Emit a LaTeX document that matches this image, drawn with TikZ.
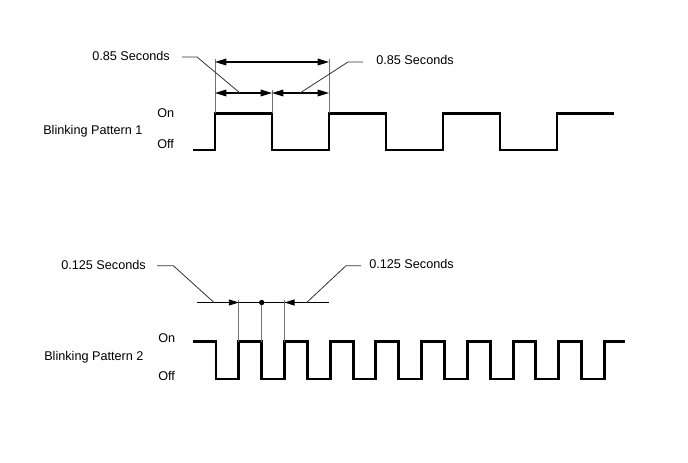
\documentclass[tikz,border=0pt]{standalone}
\usepackage{fontspec}
\setmainfont{Liberation Sans}
\usetikzlibrary{arrows.meta}
\begin{document}
\begin{tikzpicture}[x=0.75pt,y=-0.75pt,
  wave/.style={line width=2.2pt, line join=miter},
  ext/.style={draw=black!55, line width=0.6pt},
  dimline/.style={line width=0.9pt, {Triangle[length=8.5pt,width=5pt]}-{Triangle[length=8.5pt,width=5pt]}},
  tip/.style={line width=0.6pt, -{Triangle[length=7.5pt,width=4.5pt]}},
  thin/.style={line width=0.6pt},
  leader/.style={draw=black!80, line width=0.6pt},
  lbl/.style={font=\fontsize{9.5pt}{11pt}\selectfont, inner sep=0pt, anchor=base west}
]
\useasboundingbox (0,0) rectangle (688,463);

% ---------- labels ----------
\node[lbl] (s1l) at (92,60.6) {0.85 Seconds};
\node[lbl] (s1r) at (376,64.6) {0.85 Seconds};
\node[lbl] (bp1) at (43,134.3) {Blinking Pattern 1};
\node[lbl] (on1) at (157,117.5) {On};
\node[lbl] (off1) at (157,148.3) {Off};

\node[lbl] (s2l) at (61,269) {0.125 Seconds};
\node[lbl] (s2r) at (369,268.3) {0.125 Seconds};
\node[lbl] (bp2) at (44,360.7) {Blinking Pattern 2};
\node[lbl] (on2) at (158,342.3) {On};
\node[lbl] (off2) at (158,380) {Off};

% ---------- pattern 1 waveform ----------
\def\onA{113.5}
\def\offA{150}
\draw[wave] (193,\offA) -- (215,\offA)
  -- (215,\onA) -- (272,\onA) -- (272,\offA) -- (329,\offA)
  -- (329,\onA) -- (386,\onA) -- (386,\offA) -- (443,\offA)
  -- (443,\onA) -- (500,\onA) -- (500,\offA) -- (557,\offA)
  -- (557,\onA) -- (614,\onA);

% dimension for pattern 1
\coordinate (a0) at (215,62);
\coordinate (a2) at (329,62);
\coordinate (b0) at (215,93);
\coordinate (b1) at (272,93);
\coordinate (b2) at (329,93);
\draw[ext] (215,59) -- (215,\onA);
\draw[ext] (329,59) -- (329,\onA);
\draw[ext] (272,90.5) -- (272,\onA);
\draw[dimline] (a0) -- (a2);
\draw[dimline] (b0) -- (b1);
\draw[dimline] (b1) -- (b2);

% leaders pattern 1
\coordinate (l1a) at (182,57);
\coordinate (l1b) at (197,57);
\coordinate (l1c) at (240,93);
\coordinate (r1a) at (363,62);
\coordinate (r1b) at (348,62);
\coordinate (r1c) at (300,93);
\draw[leader] (l1a) -- (l1b) -- (l1c);
\draw[leader] (r1a) -- (r1b) -- (r1c);

% ---------- pattern 2 waveform ----------
\def\onB{341.7}
\def\offB{379}
\draw[wave] (193,\onB)
  \foreach \k in {0,...,8}{
    -- ({216+45.7*\k},\onB) -- ({216+45.7*\k},\offB)
    -- ({238.85+45.7*\k},\offB) -- ({238.85+45.7*\k},\onB)
  } -- (625,\onB);

% dimension for pattern 2
\coordinate (d0) at (197,302.5);
\coordinate (d3) at (329,302.5);
\coordinate (e1) at (238.85,302.5);
\coordinate (e2) at (261.7,302.5);
\coordinate (e3) at (284.55,302.5);
\coordinate (t1) at (226,302.5);
\coordinate (t3) at (297,302.5);
\draw[thin] (d0) -- (d3);
\draw[ext] (238.85,299.5) -- (238.85,\onB);
\draw[ext] (261.7,299.5) -- (261.7,\onB);
\draw[ext] (284.55,299.5) -- (284.55,\onB);
\draw[tip] (t1) -- (e1);
\draw[tip] (t3) -- (e3);
\fill (e2) circle (2pt);

% leaders pattern 2
\coordinate (l2a) at (157,265.7);
\coordinate (l2b) at (173.3,265.7);
\coordinate (l2c) at (214,302.5);
\coordinate (r2a) at (361,265.7);
\coordinate (r2b) at (346,265.7);
\coordinate (r2c) at (306.7,302.5);
\draw[leader] (l2a) -- (l2b) -- (l2c);
\draw[leader] (r2a) -- (r2b) -- (r2c);
\end{tikzpicture}
\end{document}
